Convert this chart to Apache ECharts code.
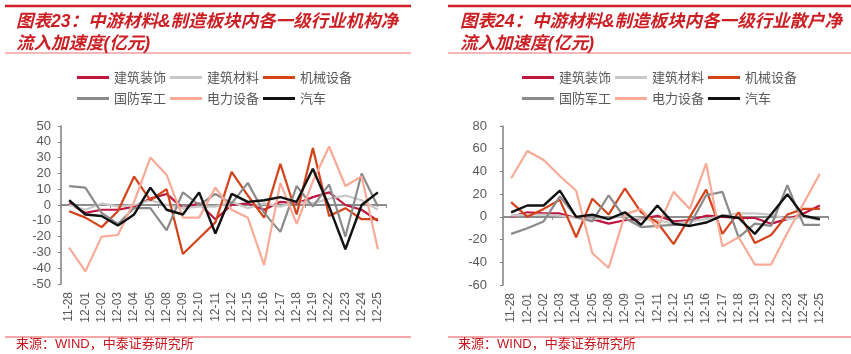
<!DOCTYPE html>
<html>
<head>
<meta charset="utf-8">
<script src="https://cdn.jsdelivr.net/npm/echarts@6/dist/echarts.min.js"></script>
<style>
  html, body { margin: 0; padding: 0; background: #fff; }
  #main { width: 851px; height: 354px; }
</style>
</head>
<body>
<div id="main"></div>
<script>
// 日期
var dates = ['11-28','12-01','12-02','12-03','12-04','12-05','12-08','12-09','12-10','12-11',
             '12-12','12-15','12-16','12-17','12-18','12-19','12-22','12-23','12-24','12-25'];

// 图表23 机构净流入加速度
var instDecor     = [1, -5, -3, -3, -1, 4, 7, -2, 1, -9, 0, 1, -3, 2, 1, 5, 8, 0, -3, -10];
var instMaterial  = [0, -3, 1, -1, 0, 3, 0, -2, -1, -1, 2, -2, 1, -1, 2, 1, 4, 6, 3, -3];
var instMachine   = [-4, -8, -14, -4, 18, 3, 10, -31, -21, -11, 21, 6, -8, 26, -6, 36, -7, -2, -9, -9];
var instDefense   = [12, 11, -5, -12, -2, -2, -16, 8, 0, 7, 1, 14, -5, -17, 12, -1, 13, -20, 20, -1];
var instPower     = [-27, -42, -20, -19, 2, 30, 19, -8, -8, 11, -3, -8, -38, 14, -12, 15, 37, 12, 18, -28];
var instAuto      = [3, -6, -7, -13, -6, 11, -3, -6, 8, -18, 7, 2, 3, 5, 2, 23, -1, -28, 0, 8];

// 图表24 散户净流入加速度
var retailDecor    = [0, 4, 3, 3, -1, -2, -6, -3, -2, 1, -4, -3, 1, 0, -1, -1, -6, -2, 3, 10];
var retailMaterial = [1, 2, 2, 1, -1, -2, -1, 1, -2, -3, -6, -4, -2, 1, 3, 3, 2, -2, 0, -3];
var retailMachine  = [13, 0, 7, 15, -18, 16, 2, 25, 4, -5, -24, 0, 24, -15, 4, -23, -16, 2, 7, 7];
var retailDefense  = [-15, -10, -4, 18, 0, -4, 19, -1, -9, -8, -7, -7, 19, 22, -18, -6, -8, 28, -7, -7];
var retailPower    = [34, 58, 50, 36, 23, -32, -45, 2, 7, -10, 22, 7, 47, -26, -18, -42, -42, -14, 12, 38];
var retailAuto     = [4, 10, 10, 23, 0, 2, -2, 4, -7, 10, -6, -8, -5, 1, -1, -15, 2, 20, 1, -2];

var names  = ['建筑装饰', '建筑材料', '机械设备', '国防军工', '电力设备', '汽车'];
var colors = ['#c0163f', '#c8c8c8', '#d4431a', '#8a8a8a', '#f8aa96', '#111111'];

var instData   = [instDecor, instMaterial, instMachine, instDefense, instPower, instAuto];
var retailData = [retailDecor, retailMaterial, retailMachine, retailDefense, retailPower, retailAuto];

var latin = '"Liberation Sans", "Noto Sans CJK SC", sans-serif';
var cjk = '"Noto Sans CJK SC", sans-serif';

function makeSeries(list, axisIdx) {
    return list.map(function (d, i) {
        return {
            name: names[i],
            type: 'line',
            xAxisIndex: axisIdx * 2,
            yAxisIndex: axisIdx,
            data: d,
            symbol: 'none',
            color: colors[i],
            lineStyle: { width: i == 5 ? 2.4 : 2.2, color: colors[i] }
        };
    });
}

function xAxes(grid) {
    return [
        {
            type: 'category', gridIndex: grid, data: dates, boundaryGap: true,
            axisLine: { show: false, onZero: false },
            axisTick: { show: false },
            axisLabel: { rotate: 90, fontSize: 12, color: '#595959', fontFamily: latin, margin: 8, interval: 0 }
        },
        {
            type: 'category', gridIndex: grid, data: dates, boundaryGap: true, position: 'top',
            axisLine: { show: true, onZero: true, lineStyle: { color: '#8c8c8c', width: 2 } },
            axisTick: { show: true, inside: true, length: 3, lineStyle: { color: '#8c8c8c' } },
            axisLabel: { show: false }
        }
    ];
}

function yAxis(grid, min, max, step, margin) {
    return {
        type: 'value', gridIndex: grid, min: min, max: max, interval: step,
        axisLine: { show: true, onZero: false, lineStyle: { color: '#7f7f7f', width: 1.5 } },
        axisTick: { show: true, length: 3, lineStyle: { color: '#7f7f7f' } },
        axisLabel: { fontSize: 13, color: '#595959', fontFamily: latin, margin: margin },
        splitLine: { show: false }
    };
}

function legendRow(items, left, top) {
    return {
        data: items, left: left, top: top, padding: 0,
        icon: 'rect', itemWidth: 32, itemHeight: 3, itemGap: 4,
        textStyle: { fontSize: 13, color: '#595959', fontFamily: cjk }
    };
}

var titleStyle = { fontSize: 17.5, fontWeight: 'bold', fontStyle: 'italic', color: '#cc1f24', lineHeight: 22, fontFamily: latin };
var srcStyle = { fontSize: 13, fontWeight: 'normal', color: '#c8161d', fontFamily: latin };

var chart = echarts.init(document.getElementById('main'));
var option = {
    animation: false,
    title: [
        { text: '图表23：中游材料&制造板块内各一级行业机构净\n流入加速度(亿元)', left: 16, top: 11, padding: 0, textStyle: titleStyle },
        { text: '图表24：中游材料&制造板块内各一级行业散户净\n流入加速度(亿元)', left: 460, top: 11, padding: 0, textStyle: titleStyle },
        { text: '来源：WIND，中泰证券研究所', left: 16, top: 338, padding: 0, textStyle: srcStyle },
        { text: '来源：WIND，中泰证券研究所', left: 458, top: 338, padding: 0, textStyle: srcStyle }
    ],
    legend: [
        legendRow(names.slice(0, 3), 77, 71),
        legendRow(names.slice(3), 77, 92),
        legendRow(names.slice(0, 3), 522, 71),
        legendRow(names.slice(3), 522, 92)
    ],
    grid: [
        { left: 61, top: 126, width: 325, height: 158 },
        { left: 503, top: 126, width: 325, height: 159 }
    ],
    xAxis: xAxes(0).concat(xAxes(1)),
    yAxis: [
        yAxis(0, -50, 50, 10, 10),
        yAxis(1, -60, 80, 20, 16)
    ],
    series: makeSeries(instData, 0).concat(makeSeries(retailData, 1)),
    graphic: [
        { type: 'line', shape: { x1: 5, y1: 6, x2: 411, y2: 6 }, style: { stroke: '#d0202a', lineWidth: 2.5 } },
        { type: 'line', shape: { x1: 5, y1: 53, x2: 411, y2: 53 }, style: { stroke: '#e87070', lineWidth: 1 } },
        { type: 'line', shape: { x1: 5, y1: 337, x2: 411, y2: 337 }, style: { stroke: '#e85050', lineWidth: 1 } },
        { type: 'line', shape: { x1: 448, y1: 6, x2: 851, y2: 6 }, style: { stroke: '#d0202a', lineWidth: 2.5 } },
        { type: 'line', shape: { x1: 448, y1: 53, x2: 851, y2: 53 }, style: { stroke: '#e87070', lineWidth: 1 } },
        { type: 'line', shape: { x1: 448, y1: 337, x2: 851, y2: 337 }, style: { stroke: '#e85050', lineWidth: 1 } }
    ]
};
chart.setOption(option);
</script>
</body>
</html>
